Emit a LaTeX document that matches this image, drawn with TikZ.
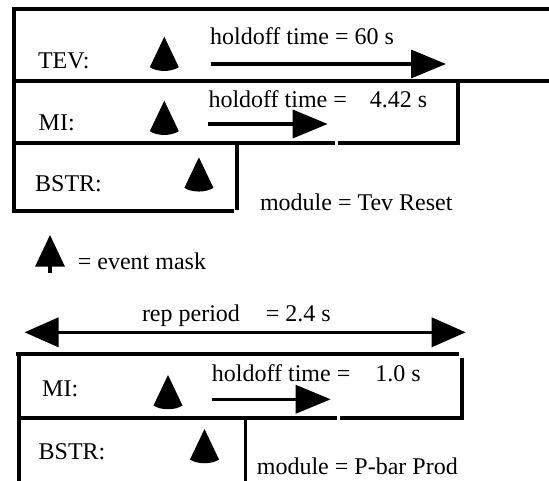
\documentclass[tikz,border=0pt]{standalone}
\usepackage{fontspec}
\setmainfont{Liberation Serif}
\usetikzlibrary{arrows.meta}
\tikzset{
  cone/.pic={\fill (0,0) -- (-14.5,30.5) .. controls (-7,35.5) and (7,35.5) .. (14.5,30.5) -- cycle;},
  maskicon/.pic={\fill (0,0) -- (-15,31.7) -- (15,31.7) -- cycle; \fill (-2,31) rectangle (2,38.3);},
}
\begin{document}
\begin{tikzpicture}[x=1pt,y=-1pt,
  boxline/.style={line width=4pt, line join=miter},
  thinline/.style={line width=3pt},
  txt/.style={inner sep=0pt, anchor=base west, font=\fontsize{24}{28}\selectfont},
  tarr/.style={line width=3.6pt, -{Triangle[length=35pt,width=28pt]}},
  darr/.style={line width=3.6pt, {Triangle[length=34pt,width=29pt]}-{Triangle[length=34pt,width=29pt]}}]
\useasboundingbox (0,0) rectangle (549,481);

% ---- upper group (Tev Reset) ----
\draw[boxline] (549,9.5) -- (14,9.5) -- (14,210.7) -- (234,210.7);
\draw[boxline] (14,81.5) -- (549,81.5);
\draw[boxline] (14,143.5) -- (335,143.5);
\draw[boxline] (337.5,143.5) -- (457.5,143.5) -- (457.5,81.5);
\draw[boxline] (236.8,143.5) -- (236.8,210.5);

\node[txt] (tev) at (37.8,68.3) {TEV:};
\node[txt] (hold1) at (210,45) {holdoff time = 60 s};
\node[txt] (mi1) at (38.5,131) {MI:};
\node[txt] (hold2) at (208.3,107.3) {holdoff time =\hspace{23pt}4.42 s};
\node[txt] (bstr1) at (35,191.7) {BSTR:};
\node[txt] (mod1) at (259.8,210.7) {module = Tev Reset};

\coordinate (a1s) at (211,64);
\coordinate (a1e) at (446,64);
\draw[tarr] (a1s) -- (a1e);
\coordinate (a2s) at (207.5,124);
\coordinate (a2e) at (327.7,124);
\draw[tarr] (a2s) -- (a2e);

\pic (m1) at (164.3,36.7) {cone};
\pic (m2) at (164.3,100.7) {cone};
\pic (m3) at (198.9,157.3) {cone};

% ---- legend ----
\pic (leg) at (50,235) {maskicon};
\node[txt] (legtxt) at (77.7,269.3) {= event mask};

% ---- lower group (P-bar Prod) ----
\node[txt] (rep) at (141.8,321) {rep period\hspace{26pt}= 2.4 s};
\coordinate (rpl) at (24.5,332.3);
\coordinate (rpr) at (465.7,332.3);
\draw[darr] (rpl) -- (rpr);

\draw[boxline] (16,353.5) -- (459.3,353.5);
\draw[boxline] (19.3,351.5) -- (19.3,481);
\draw[boxline] (461.5,357.5) -- (461.5,420.3);
\draw[boxline] (19,418.3) -- (337,418.3);
\draw[boxline] (340,418.3) -- (463.5,418.3);
\draw[thinline] (245,418.3) -- (245,481);

\node[txt] (mi2) at (42,396.7) {MI:};
\node[txt] (hold3) at (211.7,381.7) {holdoff time =\hspace{25pt}1.0 s};
\node[txt] (bstr2) at (38.5,459.3) {BSTR:};
\node[txt] (mod2) at (256.7,474.5) {module = P-bar Prod};

\coordinate (a3s) at (211.7,399.3);
\coordinate (a3e) at (330.7,399.3);
\draw[tarr] (a3s) -- (a3e);

\pic (m4) at (168,375) {cone};
\pic (m5) at (204.5,429) {cone};
\end{tikzpicture}
\end{document}
